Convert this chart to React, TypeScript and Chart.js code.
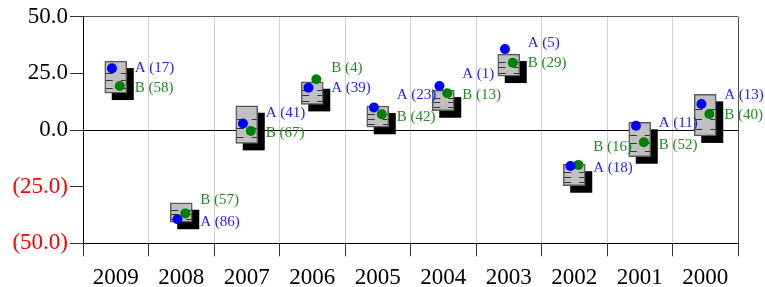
import { useEffect, useRef } from 'react';
import { Chart, registerables } from 'chart.js';
Chart.register(...registerables);

const years = ['2009', '2008', '2007', '2006', '2005', '2004', '2003', '2002', '2001', '2000'];
const seriesA = [27.2, -39.4, 2.9, 18.7, 9.9, 19.4, 35.7, -15.9, 1.9, 11.5];
const seriesB = [19.4, -36.8, -0.4, 22.4, 6.9, 16.2, 29.7, -15.4, -5.4, 7.1];
const boxHigh = [30.4, -32.1, 10.7, 21.3, 10.6, 17.6, 33.5, -15.1, 3.4, 15.7];
const boxLow = [16.3, -40.7, -5.9, 11.3, 1.2, 8.5, 23.8, -24.6, -11.8, -2.6];
const countA = [17, 86, 41, 39, 23, 1, 5, 18, 11, 13];
const countB = [58, 57, 67, 4, 42, 13, 29, 16, 52, 40];
const yMin = -50;
const yMax = 50;
const yStep = 25;

// label layout (pixel shifts to avoid collisions), not data
const labelShiftA = [0, 3, -10.6, 0, -13, -12, -6, 1.7, -2.4, -9];
const labelShiftB = [2, -13, 2.3, -11, 2.4, 1.7, 0.6, -18, 2.7, 1];

const SERIF = '"Liberation Serif", "Times New Roman", serif';

const decorPlugin = {
  id: 'boxDecor',
  beforeDatasetDraw(chart: any, args: any) {
    if (args.index !== 0) return;
    const ctx = chart.ctx;
    const meta = chart.getDatasetMeta(0);
    ctx.save();
    ctx.fillStyle = '#000';
    meta.data.forEach((bar: any) => {
      const { x, y, base, width } = bar.getProps(['x', 'y', 'base', 'width'], true);
      const top = Math.min(y, base);
      const h = Math.abs(base - y);
      ctx.fillRect(x - width / 2 + 7, top + 7, width, h);
    });
    ctx.restore();
  },
  afterDatasetDraw(chart: any, args: any) {
    if (args.index !== 0) return;
    const ctx = chart.ctx;
    const meta = chart.getDatasetMeta(0);
    ctx.save();
    ctx.strokeStyle = '#333';
    ctx.lineWidth = 1.2;
    ctx.setLineDash([7, 8]);
    meta.data.forEach((bar: any) => {
      const { x, y, base, width } = bar.getProps(['x', 'y', 'base', 'width'], true);
      const top = Math.min(y, base);
      const h = Math.abs(base - y);
      [0.36, 0.6, 0.84].forEach((f) => {
        const yy = Math.round(top + h * f) + 0.5;
        ctx.beginPath();
        ctx.moveTo(x - width / 2 + 1, yy);
        ctx.lineTo(x + width / 2 - 1, yy);
        ctx.stroke();
      });
    });
    ctx.restore();
  },
  afterDatasetsDraw(chart: any) {
    const ctx = chart.ctx;
    const bars = chart.getDatasetMeta(0).data;
    ctx.save();
    ctx.font = '15px ' + SERIF;
    ctx.textBaseline = 'middle';
    ctx.textAlign = 'left';
    const sets = [
      { di: 1, name: 'A', counts: countA, shifts: labelShiftA, color: 'rgb(30,30,255)' },
      { di: 2, name: 'B', counts: countB, shifts: labelShiftB, color: '#228b22' },
    ];
    sets.forEach((s) => {
      const meta = chart.getDatasetMeta(s.di);
      meta.data.forEach((pt: any, i: number) => {
        const bar = bars[i];
        const tx = bar.x + bar.width / 2 + 8;
        const ty = pt.y + s.shifts[i];
        ctx.fillStyle = s.color;
        ctx.fillText(`${s.name} (${s.counts[i]})`, tx, ty);
      });
    });
    ctx.restore();
  },
};

function fmt(v: number) {
  const s = Math.abs(v).toFixed(1);
  return v < 0 ? `(${s})` : s;
}

export default function App() {
  const ref = useRef<HTMLCanvasElement | null>(null);
  useEffect(() => {
    document.body.style.margin = '0';
    const canvas = ref.current;
    if (!canvas) return;
    const chart = new Chart(canvas, {
      type: 'bar',
      data: {
        labels: years,
        datasets: [
          {
            type: 'bar',
            data: years.map((_, i) => [boxLow[i], boxHigh[i]]) as any,
            backgroundColor: '#c0c0c0',
            borderColor: '#5a5a5a',
            borderWidth: 1.5,
            borderSkipped: false,
            barThickness: 22,
            grouped: false,
            xAxisID: 'x',
            order: 3,
          } as any,
          {
            type: 'scatter',
            data: seriesA.map((v, i) => ({ x: i - 0.058, y: v })),
            backgroundColor: '#0000ff',
            borderWidth: 0,
            pointRadius: 5,
            xAxisID: 'xl',
            order: 1,
          } as any,
          {
            type: 'scatter',
            data: seriesB.map((v, i) => ({ x: i + 0.062, y: v })),
            backgroundColor: '#008000',
            borderWidth: 0,
            pointRadius: 5,
            xAxisID: 'xl',
            order: 2,
          } as any,
        ],
      },
      options: {
        animation: false,
        responsive: false,
        maintainAspectRatio: false,
        layout: { padding: { top: 16.7, right: 27, left: 0, bottom: 0 } },
        plugins: { legend: { display: false }, tooltip: { enabled: false } },
        scales: {
          x: {
            type: 'category',
            offset: true,
            grid: {
              offset: true,
              color: (c: any) => (c.index === undefined ? '#555' : c.index === 0 ? '#000' : '#d0d0d0'),
              tickColor: '#333',
              tickLength: 13,
              lineWidth: 1,
            },
            border: { color: '#000', width: 1 },
            ticks: {
              color: '#000',
              font: { family: SERIF, size: 23 },
              padding: 8,
              maxRotation: 0,
              autoSkip: false,
            },
            afterFit: (s: any) => {
              s.height = 43.7;
            },
          },
          xl: {
            type: 'linear',
            axis: 'x',
            display: false,
            offset: false,
            grid: { offset: false },
            bounds: 'ticks',
            min: -0.5,
            max: 9.5,
          },
          y: {
            type: 'linear',
            min: yMin,
            max: yMax,
            grid: {
              color: (c: any) =>
                c.tick && c.tick.value === yMax ? '#555' : c.tick && c.tick.value === 0 ? '#000' : 'rgba(0,0,0,0)',
              tickColor: '#333',
              tickLength: 13,
              lineWidth: 1,
            },
            border: { color: '#000', width: 1 },
            ticks: {
              stepSize: yStep,
              color: (c: any) => (c.tick && c.tick.value < 0 ? '#ff0000' : '#000'),
              font: { family: SERIF, size: 23 },
              padding: 2,
              callback: (v: any) => fmt(Number(v)),
            },
            afterFit: (s: any) => {
              s.width = 83;
            },
          },
        },
      },
      plugins: [decorPlugin],
    });
    return () => chart.destroy();
  }, []);
  return (
    <div style={{ width: 765, height: 287 }}>
      <canvas ref={ref} width={765} height={287} style={{ display: 'block' }} />
    </div>
  );
}
